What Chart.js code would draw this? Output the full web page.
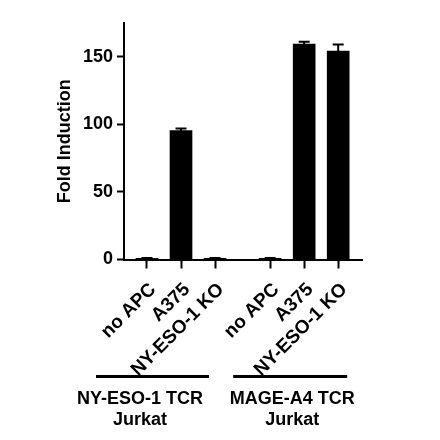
<!DOCTYPE html>
<html>
<head>
<meta charset="utf-8">
<script src="https://cdn.jsdelivr.net/npm/chart.js@4"></script>
<style>
  html, body { margin: 0; padding: 0; background: #fff; }
  #wrap { width: 440px; height: 440px; }
</style>
</head>
<body>
<div id="wrap"><canvas id="chart" width="440" height="440"></canvas></div>
<script>
// data
const groups = ['NY-ESO-1 TCR\nJurkat', 'MAGE-A4 TCR\nJurkat'];
const conditions = ['no APC', 'A375', 'NY-ESO-1 KO'];
const meanValues = [0.9, 95.4, 0.9, 0.9, 159.4, 154.2];
const errValues = [0.3, 1.5, 0.3, 0.3, 1.7, 4.9];
const yTicks = [0, 50, 100, 150];
const yMax = 175;

const FONT = "'Liberation Sans', Arial, sans-serif";
const groupGap = 1.62; // distance between last bar of a group and first of next

// bar positions on the x axis (each group keeps its own spacing)
const xPositions = [];
const xLabels = [];
groups.forEach(function(g, gi) {
    conditions.forEach(function(c, ci) {
        xPositions.push(gi * (conditions.length - 1 + groupGap) + ci);
        xLabels.push(c);
    });
});

const barData = xPositions.map(function(x, i) { return { x: x, y: meanValues[i] }; });

// error bars on top of each bar
const errorBarPlugin = {
    id: 'errorBars',
    afterDatasetsDraw: function(chart) {
        const ctx = chart.ctx;
        const yScale = chart.scales.y;
        const meta = chart.getDatasetMeta(0);
        ctx.save();
        ctx.strokeStyle = '#000';
        ctx.lineWidth = 2;
        meta.data.forEach(function(el, i) {
            const top = yScale.getPixelForValue(meanValues[i] + errValues[i]);
            const bot = yScale.getPixelForValue(meanValues[i] - errValues[i]);
            ctx.beginPath();
            ctx.moveTo(el.x, bot);
            ctx.lineTo(el.x, top);
            ctx.moveTo(el.x - 5.5, top);
            ctx.lineTo(el.x + 5.5, top);
            ctx.stroke();
        });
        ctx.restore();
    }
};

// rotated category labels, ending just below each tick
const tickLabelPlugin = {
    id: 'tickLabels',
    afterDraw: function(chart) {
        const ctx = chart.ctx;
        const xScale = chart.scales.x;
        ctx.save();
        ctx.fillStyle = '#000';
        ctx.font = 'bold 19px ' + FONT;
        ctx.textAlign = 'right';
        ctx.textBaseline = 'middle';
        xPositions.forEach(function(v, i) {
            const px = xScale.getPixelForValue(v);
            ctx.save();
            ctx.translate(px + 6, xScale.top + 27);
            ctx.rotate(-Math.PI / 4);
            ctx.fillText(xLabels[i], 0, 0);
            ctx.restore();
        });
        ctx.restore();
    }
};

// group brackets and names under the rotated labels
const groupLineOffsets = [[-85, 28], [-71, 43]];
const groupTextOffsets = [-41, -12];
const groupPlugin = {
    id: 'groupLabels',
    afterDraw: function(chart) {
        const ctx = chart.ctx;
        const xScale = chart.scales.x;
        ctx.save();
        groups.forEach(function(g, gi) {
            const first = xScale.getPixelForValue(xPositions[gi * conditions.length]);
            const last = xScale.getPixelForValue(xPositions[gi * conditions.length + conditions.length - 1]);
            const mid = (first + last) / 2;
            ctx.fillStyle = '#000';
            ctx.fillRect(mid + groupLineOffsets[gi][0], 375, groupLineOffsets[gi][1] - groupLineOffsets[gi][0], 3);
            ctx.font = 'bold 18px ' + FONT;
            ctx.textAlign = 'center';
            ctx.textBaseline = 'middle';
            g.split('\n').forEach(function(line, li) {
                ctx.fillText(line, mid + groupTextOffsets[gi], 399 + li * 21);
            });
        });
        ctx.restore();
    }
};

new Chart(document.getElementById('chart'), {
    type: 'bar',
    data: {
        datasets: [{
            data: barData,
            backgroundColor: '#000',
            borderWidth: 0,
            barThickness: 22
        }]
    },
    options: {
        responsive: false,
        animation: false,
        layout: { padding: { left: 0, top: 23, right: 78, bottom: 0 } },
        plugins: { legend: { display: false }, tooltip: { enabled: false } },
        scales: {
            x: {
                type: 'linear',
                offset: false,
                min: -0.676,
                max: 6.32,
                afterBuildTicks: function(scale) {
                    scale.ticks = xPositions.map(function(v) { return { value: v }; });
                },
                afterFit: function(scale) { scale.height = 180.5; },
                border: { color: '#000', width: 2 },
                grid: { offset: false, drawOnChartArea: false, color: '#000', tickColor: '#000', tickLength: 9, tickWidth: 2 },
                ticks: { display: false, autoSkip: false }
            },
            y: {
                min: 0,
                max: yMax,
                afterBuildTicks: function(scale) {
                    scale.ticks = yTicks.map(function(v) { return { value: v }; });
                },
                afterFit: function(scale) { scale.width = 124; },
                border: { color: '#000', width: 2 },
                grid: { drawOnChartArea: false, color: '#000', tickColor: '#000', tickLength: 7, tickWidth: 2 },
                ticks: {
                    padding: 4,
                    color: '#000',
                    font: { family: FONT, size: 18, weight: 'bold' }
                },
                title: {
                    display: true,
                    text: 'Fold Induction',
                    color: '#000',
                    padding: { top: 54, bottom: 0 },
                    font: { family: FONT, size: 18, weight: 'bold' }
                }
            }
        }
    },
    plugins: [errorBarPlugin, tickLabelPlugin, groupPlugin]
});
</script>
</body>
</html>
